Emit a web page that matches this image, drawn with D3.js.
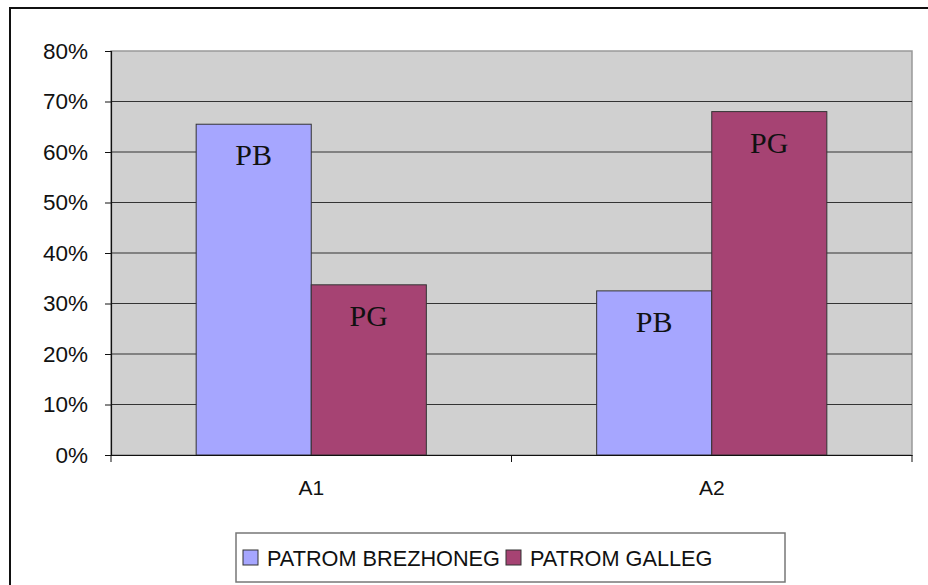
<!DOCTYPE html>
<html>
<head>
<meta charset="utf-8">
<script src="https://cdn.jsdelivr.net/npm/d3@7"></script>
<style>
  body { margin: 0; background: #fff; }
  svg { display: block; }
</style>
</head>
<body>
<div id="chart"></div>
<script>
var categories = ["A1", "A2"];
var seriesNames = ["PATROM BREZHONEG", "PATROM GALLEG"];
var shortNames = ["PB", "PG"];
var brezhoneg = [0.655, 0.325];
var galleg = [0.337, 0.68];
var yTicks = [0, 0.1, 0.2, 0.3, 0.4, 0.5, 0.6, 0.7, 0.8];
var colors = ["#a6a6ff", "#a64373"];

var width = 928, height = 585;
var plot = { left: 111, top: 51, right: 912, bottom: 455 };

var svg = d3.select("#chart").append("svg")
    .attr("width", width)
    .attr("height", height);

// outer frame (runs off right / bottom)
svg.append("rect")
    .attr("x", 10).attr("y", 8)
    .attr("width", 940).attr("height", 600)
    .attr("fill", "#fff")
    .attr("stroke", "#111")
    .attr("stroke-width", 2);

var x = d3.scaleBand()
    .domain(categories)
    .range([plot.left, plot.right]);

var x1 = d3.scaleBand()
    .domain(shortNames)
    .range([0, x.bandwidth()])
    .paddingInner(0)
    .paddingOuter(0.74);

var y = d3.scaleLinear()
    .domain([0, 0.8])
    .range([plot.bottom, plot.top]);

// plot background
svg.append("rect")
    .attr("x", plot.left).attr("y", plot.top)
    .attr("width", plot.right - plot.left)
    .attr("height", plot.bottom - plot.top)
    .attr("fill", "#d0d0d0")
    .attr("stroke", "#999")
    .attr("stroke-width", 1.5);

// gridlines
svg.append("g")
    .selectAll("line")
    .data(yTicks.filter(function(d) { return d > 0 && d < 0.8; }))
    .enter().append("line")
    .attr("x1", plot.left).attr("x2", plot.right)
    .attr("y1", function(d) { return y(d); })
    .attr("y2", function(d) { return y(d); })
    .attr("stroke", "#333")
    .attr("stroke-width", 1.2);

var rows = categories.map(function(c, i) {
    return { cat: c, values: [brezhoneg[i], galleg[i]] };
});

var groups = svg.append("g")
    .selectAll("g")
    .data(rows)
    .enter().append("g")
    .attr("transform", function(d) { return "translate(" + x(d.cat) + ",0)"; });

var bars = groups.selectAll("g")
    .data(function(d) {
        return d.values.map(function(v, j) { return { name: shortNames[j], value: v, idx: j }; });
    })
    .enter().append("g");

bars.append("rect")
    .attr("x", function(d) { return x1(d.name); })
    .attr("y", function(d) { return y(d.value); })
    .attr("width", x1.bandwidth())
    .attr("height", function(d) { return y(0) - y(d.value); })
    .attr("fill", function(d) { return colors[d.idx]; })
    .attr("stroke", "#333")
    .attr("stroke-width", 1);

bars.append("text")
    .attr("x", function(d) { return x1(d.name) + x1.bandwidth() / 2; })
    .attr("y", function(d) { return y(d.value) + 41; })
    .attr("text-anchor", "middle")
    .style("font-family", "'Liberation Serif', 'Times New Roman', serif")
    .style("font-size", "30px")
    .attr("fill", "#111")
    .text(function(d) { return d.name; });

// y axis
var yAxis = d3.axisLeft(y)
    .tickValues(yTicks)
    .tickFormat(d3.format(".0%"))
    .tickSize(6)
    .tickPadding(17);

var ya = svg.append("g")
    .attr("transform", "translate(" + plot.left + ",0)")
    .call(yAxis);
ya.select(".domain").attr("stroke", "#111").attr("stroke-width", 1.2);
ya.selectAll(".tick line").attr("stroke", "#111");
ya.selectAll("text")
    .style("font-family", "'Liberation Sans', Arial, sans-serif")
    .style("font-size", "22.5px")
    .attr("fill", "#111");

// x axis
var xAxis = d3.axisBottom(x).tickSize(0).tickPadding(25);
var xa = svg.append("g")
    .attr("transform", "translate(0," + plot.bottom + ")")
    .call(xAxis);
xa.select(".domain").attr("stroke", "#111").attr("stroke-width", 1.2);
xa.selectAll("text")
    .style("font-family", "'Liberation Sans', Arial, sans-serif")
    .style("font-size", "21px")
    .attr("fill", "#111");

// category separator ticks
var sepX = [plot.left].concat(categories.map(function(c) { return x(c) + x.bandwidth(); }));
svg.append("g")
    .selectAll("line")
    .data(sepX)
    .enter().append("line")
    .attr("x1", function(d) { return d; }).attr("x2", function(d) { return d; })
    .attr("y1", plot.bottom).attr("y2", plot.bottom + 7)
    .attr("stroke", "#111");

// legend
var legend = svg.append("g").attr("transform", "translate(236,533)");
legend.append("rect")
    .attr("width", 549).attr("height", 49)
    .attr("fill", "#fff")
    .attr("stroke", "#777")
    .attr("stroke-width", 1.5);

var legX = [7, 270];
var items = legend.selectAll("g.item")
    .data(seriesNames)
    .enter().append("g")
    .attr("class", "item")
    .attr("transform", function(d, i) { return "translate(" + legX[i] + ",0)"; });

items.append("rect")
    .attr("x", 0).attr("y", 17)
    .attr("width", 15).attr("height", 15)
    .attr("fill", function(d, i) { return colors[i]; })
    .attr("stroke", "#333");

items.append("text")
    .attr("x", 24).attr("y", 25)
    .attr("dy", "0.35em")
    .style("font-family", "'Liberation Sans', Arial, sans-serif")
    .style("font-size", "21.7px")
    .attr("fill", "#111")
    .text(function(d) { return d; });
</script>
</body>
</html>
